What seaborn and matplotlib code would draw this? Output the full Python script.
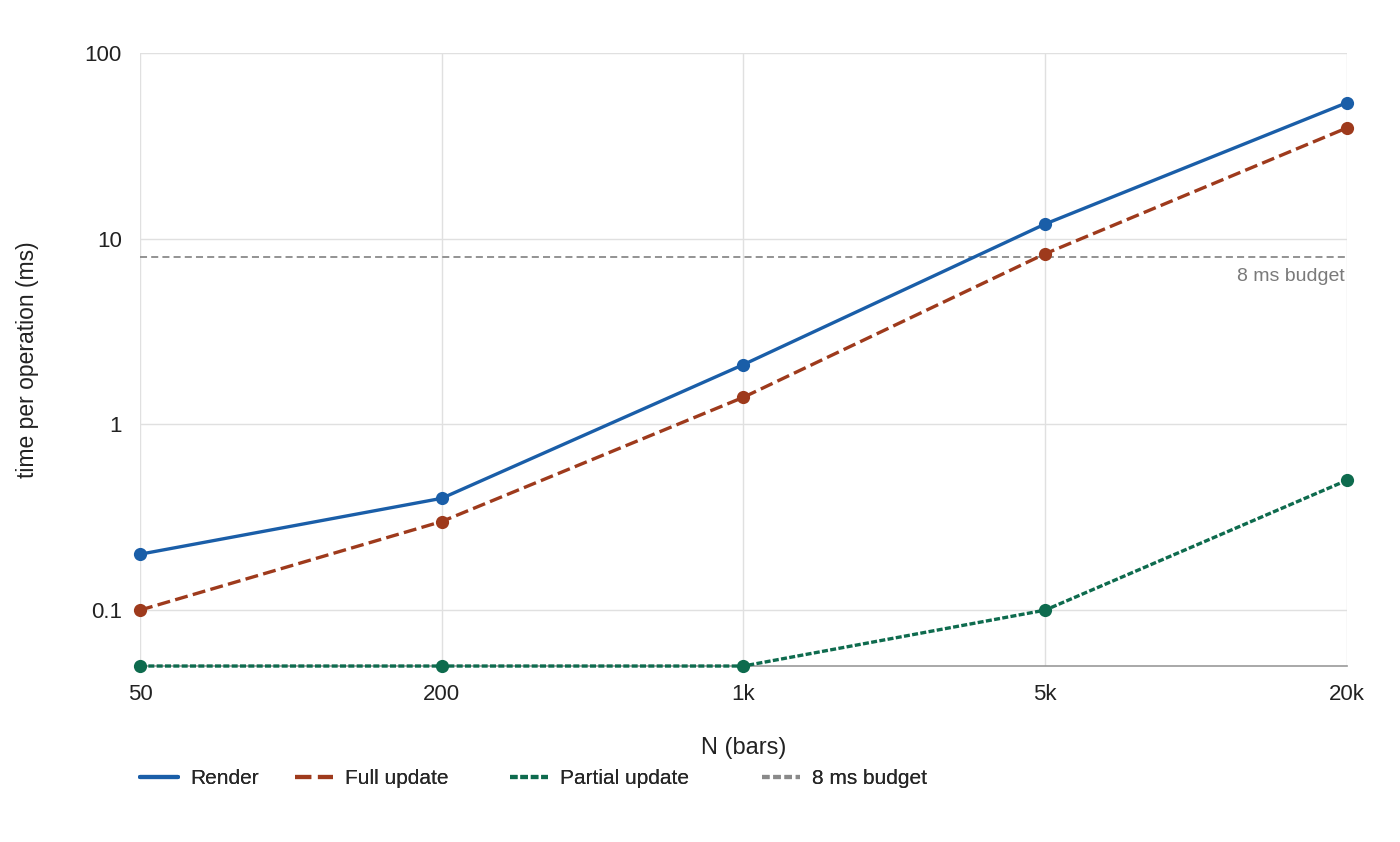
import matplotlib
matplotlib.use("Agg")
import matplotlib.pyplot as plt
import numpy as np
import pandas as pd
import seaborn as sns
from matplotlib.lines import Line2D
from matplotlib.ticker import FixedLocator, FixedFormatter, NullLocator

sns.set_style("white")
plt.rcParams["font.family"] = ["Liberation Sans", "DejaVu Sans"]

# dados
n_labels = ["50", "200", "1k", "5k", "20k"]
render = [0.2, 0.4, 2.1, 12, 54]
full_update = [0.1, 0.3, 1.4, 8.3, 39.5]
partial_update = [0.05, 0.05, 0.05, 0.1, 0.5]
budget_ms = 8

series_names = ["Render", "Full update", "Partial update"]
cores = {"Render": "#1a5ea8", "Full update": "#9e3a1c", "Partial update": "#0e6b4e"}
estilos = {"Render": "-", "Full update": (0, (3.9, 1.6)), "Partial update": (0, (1.8, 0.7))}
cor_budget = "#8a8a8a"

df = pd.DataFrame({
    "pos": list(range(len(n_labels))) * 3,
    "N": n_labels * 3,
    "serie": np.repeat(series_names, len(n_labels)),
    "tempo": render + full_update + partial_update,
})

fig = plt.figure(figsize=(14, 8.42), dpi=100)
ax = fig.add_axes([0.1, 0.209, 0.862, 0.728])

for nome in series_names:
    sub = df[df["serie"] == nome]
    sns.lineplot(
        data=sub, x="pos", y="tempo", ax=ax, color=cores[nome],
        linestyle=estilos[nome], linewidth=2.4, marker="o", markersize=9.5,
        markeredgewidth=0, legend=False, zorder=3, clip_on=False,
    )

ax.axhline(budget_ms, color=cor_budget, linestyle=(0, (3.9, 2.3)), linewidth=1.3, zorder=2)
ax.text(len(n_labels) - 1 - 0.008, budget_ms * 0.87, "8 ms budget", ha="right", va="top",
        fontsize=14, color="#7a7a7a")

ax.set_yscale("log")
ax.set_ylim(0.05, 100)
ax.set_xlim(0, len(n_labels) - 1)
ax.yaxis.set_major_locator(FixedLocator([0.1, 1, 10, 100]))
ax.yaxis.set_major_formatter(FixedFormatter(["0.1", "1", "10", "100"]))
ax.yaxis.set_minor_locator(NullLocator())
ax.set_xticks(range(len(n_labels)))
ax.set_xticklabels(n_labels)

ax.grid(True, color="#e0e0e0", linewidth=1)
for lado in ["left", "right", "top"]:
    ax.spines[lado].set_visible(False)
ax.spines["bottom"].set_color("#999999")
ax.spines["bottom"].set_linewidth(1.2)
ax.tick_params(axis="both", labelsize=16, labelcolor="#222222", length=5, width=1,
               pad=8, color="#aaaaaa")

ax.set_xlabel("N (bars)", fontsize=17, labelpad=23, color="#222222")
ax.set_ylabel("time per operation (ms)", fontsize=16.5, labelpad=33, color="#222222")

# legenda: uma caixa por item para reproduzir o espaçamento do original
itens = [
    ("Render", cores["Render"], "-", 140),
    ("Full update", cores["Full update"], (0, (3.9, 1.6)), 295),
    ("Partial update", cores["Partial update"], (0, (1.8, 0.7)), 510),
    ("8 ms budget", cor_budget, (0, (1.8, 0.9)), 762),
]
for texto, cor, ls, x_px in itens:
    h = Line2D([], [], color=cor, linestyle=ls, linewidth=3)
    leg = fig.legend([h], [texto], loc="center left", bbox_to_anchor=(x_px / 1400, 1 - 779 / 842),
                     frameon=False, fontsize=15, handlelength=1.8, handletextpad=0.6,
                     borderpad=0, borderaxespad=0)
    fig.add_artist(leg)

plt.savefig("out.png", dpi=100)
plt.close()
